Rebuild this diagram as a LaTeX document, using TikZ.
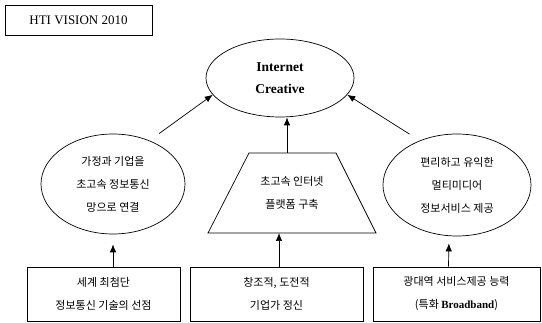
\documentclass[tikz,border=0pt]{standalone}
\usepackage{fontspec}
\setmainfont{Liberation Serif}
\newfontfamily\kr{Noto Sans CJK KR}
\usetikzlibrary{shapes.geometric,arrows.meta}

\begin{document}
\begin{tikzpicture}[x=1pt,y=-1pt,>={Latex[length=8pt,width=6.5pt]},line width=0.7pt,
	chu/.style={font=\kr\fontsize{11}{23}\selectfont,align=center},
	elip/.style={draw,ellipse,inner sep=0pt,chu},
	hop/.style={draw,rectangle,inner sep=0pt,minimum height=54pt,chu}]
	\useasboundingbox (0,0) rectangle (542,323);
	% Tiêu đề
	\node[draw,minimum width=147pt,minimum height=30pt,font=\fontsize{13}{16}\selectfont] (tieude) at (78.5,20) {HTI VISION 2010};
	% Các hình elip
	\node[elip,minimum width=148pt,minimum height=78pt,font=\bfseries\fontsize{13.5}{22}\selectfont] (dinh) at (280,78) {Internet\\Creative};
	\node[elip,minimum width=144pt,minimum height=100pt] (trai) at (113,184) {가정과 기업을\\초고속 정보통신\\망으로 연결};
	\node[elip,minimum width=148pt,minimum height=102pt] (phai) at (457,185) {편리하고 유익한\\멀티미디어\\정보서비스 제공};
	% Hình thang
	\draw (249,153) -- (336,153) -- (376,233) -- (208,233) -- cycle;
	\node[chu] (thang) at (292,193) {초고속 인터넷\\플랫폼 구축};
	\coordinate (thang-tren) at (287,153);
	\coordinate (thang-duoi) at (279,233);
	% Các hộp phía dưới
	\node[hop,minimum width=153pt] (hop1) at (103.5,294) {세계 최첨단\\정보통신 기술의 선점};
	\node[hop,minimum width=173pt] (hop2) at (276.5,294) {창조적, 도전적\\기업가 정신};
	\node[hop,minimum width=167pt] (hop3) at (456.5,294) {광대역 서비스제공 능력\\(특화 {\rmfamily\bfseries Broadband})};
	% Vẽ các mũi tên
	\draw[->,shorten >=10pt] (hop1.north -| trai.south) -- (trai.south);
	\draw[->] (hop2.north -| thang-duoi) -- (thang-duoi);
	\draw[->,shorten >=7pt] ([xshift=-8pt]hop3.north) -- ([xshift=-8pt]phai.south);
	\draw[->] (thang-tren) -- (thang-tren |- dinh.south);
	\draw[->,shorten <=12pt] (trai.50) -- (dinh.194);
	\draw[->,shorten <=12pt] (phai.130) -- (dinh.-14);
\end{tikzpicture}
\end{document}
